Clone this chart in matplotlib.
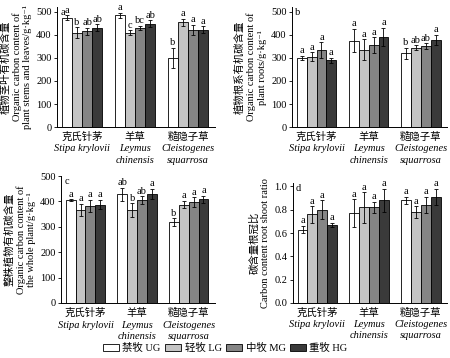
import numpy as np
import matplotlib
matplotlib.use("Agg")
import matplotlib.pyplot as plt

plt.rcParams['font.family'] = ['Liberation Serif', 'Noto Sans CJK SC', 'DejaVu Serif']
plt.rcParams['font.size'] = 7.5

species_cn = ['克氏针茅', '羊草', '糙隐子草']
species_lat = ['Stipa krylovii', 'Leymus\nchinensis', 'Cleistogenes\nsquarrosa']
treatments = ['禁牧 UG', '轻牧 LG', '中牧 MG', '重牧 HG']
colors = ['white', '#c4c4c4', '#858585', '#3a3a3a']

# rows: species, cols: UG LG MG HG
stem_mean = [[475, 410, 415, 430], [485, 410, 430, 448], [300, 455, 422, 422]]
stem_err = [[10, 22, 15, 15], [10, 10, 10, 15], [45, 15, 22, 15]]
stem_sig = [['a', 'b', 'ab', 'ab'], ['a', 'c', 'bc', 'ab'], ['b', 'a', 'a', 'a']]

root_mean = [[300, 305, 333, 290], [375, 335, 355, 390], [320, 345, 352, 378]]
root_err = [[10, 20, 35, 10], [50, 45, 35, 40], [25, 10, 12, 22]]
root_sig = [['a', 'a', 'a', 'a'], ['a', 'a', 'a', 'a'], ['b', 'ab', 'ab', 'a']]

whole_mean = [[405, 367, 382, 388], [428, 365, 405, 430], [318, 388, 398, 408]]
whole_err = [[3, 25, 25, 18], [25, 28, 15, 20], [15, 15, 18, 15]]
whole_sig = [['a', 'a', 'a', 'a'], ['ab', 'b', 'ab', 'a'], ['b', 'a', 'a', 'a']]

ratio_mean = [[0.63, 0.76, 0.80, 0.67], [0.77, 0.82, 0.82, 0.88], [0.88, 0.78, 0.84, 0.91]]
ratio_err = [[0.03, 0.07, 0.08, 0.02], [0.12, 0.13, 0.05, 0.10], [0.03, 0.05, 0.07, 0.07]]
ratio_sig = [['a'] * 4, ['a'] * 4, ['a'] * 4]

panels = [
    ('a', stem_mean, stem_err, stem_sig, '植物茎叶有机碳含量\nOrganic carbon content of\nplant stems and leaves/g·kg⁻¹',
     [0.127, 0.645, 0.351, 0.335], 520, [0, 100, 200, 300, 400, 500], '{:.0f}'),
    ('b', root_mean, root_err, root_sig, '植物根系有机碳含量\nOrganic carbon content of\nplant roots/g·kg⁻¹',
     [0.649, 0.645, 0.345, 0.335], 520, [0, 100, 200, 300, 400, 500], '{:.0f}'),
    ('c', whole_mean, whole_err, whole_sig, '整株植物有机碳含量\nOrganic carbon content of\nthe whole plant/g·kg⁻¹',
     [0.136, 0.154, 0.342, 0.354], 500, [0, 100, 200, 300, 400, 500], '{:.0f}'),
    ('d', ratio_mean, ratio_err, ratio_sig, '碳含量根冠比\nCarbon content root shoot ratio',
     [0.651, 0.154, 0.343, 0.335], 1.03, [0, 0.2, 0.4, 0.6, 0.8, 1.0], '{:.1f}'),
]

fig = plt.figure(figsize=(4.5, 3.58), dpi=100)
w = 0.19
x = np.arange(3)
handles = []
for tag, mean, err, sig, ylab, rect, ytop, yt, fmt in panels:
    ax = fig.add_axes(rect)
    mean = np.array(mean)
    err = np.array(err)
    for j in range(4):
        pos = x + (j - 1.5) * w
        b = ax.bar(pos, mean[:, j], w, color=colors[j], edgecolor='black', linewidth=0.6,
                   yerr=err[:, j], error_kw=dict(elinewidth=0.6, capsize=1.5, capthick=0.6, ecolor='black'))
        if tag == 'a':
            handles.append(b)
        for i in range(3):
            ax.text(pos[i], mean[i, j] + err[i, j] + ytop * 0.005, sig[i][j],
                    ha='center', va='bottom', fontsize=7.5)
    ax.set_xlim(-0.47, 2.51)
    ax.set_ylim(0, ytop)
    ax.set_yticks(yt)
    ax.set_yticklabels([fmt.format(v) for v in yt])
    ax.set_xticks(x)
    ax.set_xticklabels([])
    for i in range(3):
        ax.text(x[i], -0.035 * ytop * 520 / ytop if False else -ytop * 0.04, species_cn[i],
                ha='center', va='top', fontsize=7.5)
        ax.text(x[i], -ytop * 0.145, species_lat[i], ha='center', va='top',
                fontsize=7.5, style='italic', linespacing=1.3)
    ax.tick_params(axis='x', length=0)
    ax.tick_params(axis='y', length=2, width=0.6, pad=2)
    ax.spines['top'].set_visible(False)
    ax.spines['right'].set_visible(False)
    ax.spines['left'].set_linewidth(0.7)
    ax.spines['bottom'].set_linewidth(0.7)
    ax.set_ylabel(ylab, fontsize=7.5, linespacing=1.2, labelpad=3)
    ax.text(0.02, 0.99, tag, transform=ax.transAxes, ha='left', va='top', fontsize=7.5)

fig.legend(handles, treatments, loc='center', bbox_to_anchor=(0.5, 0.028), ncol=4, frameon=False,
           fontsize=7.5, handlelength=1.6, handleheight=0.7, handletextpad=0.3, columnspacing=0.4)
fig.savefig('out.png', dpi=100)
